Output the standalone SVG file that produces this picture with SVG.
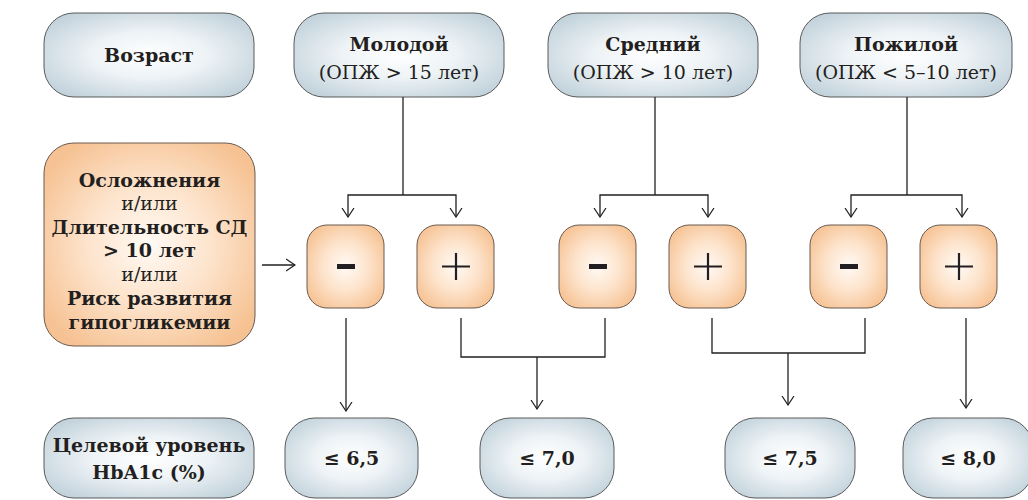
<svg xmlns="http://www.w3.org/2000/svg" width="1028" height="500" viewBox="0 0 1028 500">
<defs>
<radialGradient id="gBlue" cx="50%" cy="50%" r="60%">
<stop offset="0" stop-color="#ffffff"/>
<stop offset="0.45" stop-color="#eef3f6"/>
<stop offset="1" stop-color="#c3d3dc"/>
</radialGradient>
<radialGradient id="gOr" cx="50%" cy="50%" r="60%">
<stop offset="0" stop-color="#fffaf5"/>
<stop offset="0.5" stop-color="#fde3cb"/>
<stop offset="1" stop-color="#f6c293"/>
</radialGradient>
<marker id="arr" viewBox="0 0 10 14" refX="9" refY="7" markerWidth="10" markerHeight="14" markerUnits="userSpaceOnUse" orient="auto-start-reverse">
<path d="M0,1 L9,7 L0,13" fill="none" stroke="#231f20" stroke-width="1.2"/>
</marker>
</defs>
<style>
.b{fill:url(#gBlue);stroke:#5a5a5a;stroke-width:1}
.o{fill:url(#gOr);stroke:#6a5a50;stroke-width:1}
.ln{fill:none;stroke:#231f20;stroke-width:1.3}
</style>
<rect width="1028" height="500" fill="#ffffff"/>
<g font-family="'DejaVu Serif','Liberation Serif',serif" font-size="19" fill="#231f20" text-anchor="middle">
<g id="vozrast"><rect class="b" x="44" y="13" width="210" height="84" rx="30"/><text font-weight="bold" x="149" y="62">Возраст</text></g>
<g id="molodoy"><rect class="b" x="294" y="13" width="210" height="84" rx="30"/><text font-weight="bold" x="399" y="51">Молодой</text><text x="399" y="79">(ОПЖ &gt; 15 лет)</text></g>
<g id="sredniy"><rect class="b" x="548" y="13" width="210" height="84" rx="30"/><text font-weight="bold" x="653" y="51">Средний</text><text x="653" y="79">(ОПЖ &gt; 10 лет)</text></g>
<g id="pozhiloy"><rect class="b" x="800" y="13" width="212" height="84" rx="30"/><text font-weight="bold" x="906" y="51">Пожилой</text><text x="906" y="79">(ОПЖ &lt; 5–10 лет)</text></g>

<g id="oslozhneniya"><rect class="o" x="44" y="143" width="211" height="203" rx="30"/>
<text font-weight="bold" x="149.5" y="187">Осложнения</text>
<text x="149.5" y="210">и/или</text>
<text font-weight="bold" x="149.5" y="234">Длительность СД</text>
<text font-weight="bold" x="149.5" y="257">&gt; 10 лет</text>
<text x="149.5" y="281">и/или</text>
<text font-weight="bold" x="149.5" y="305">Риск развития</text>
<text font-weight="bold" x="149.5" y="329">гипогликемии</text>
</g>

<g id="tselevoy"><rect class="b" x="44" y="418" width="210" height="80" rx="30"/><text font-weight="bold" x="149" y="452">Целевой уровень</text><text font-weight="bold" x="149" y="479">HbA1c (%)</text></g>
<g id="r65"><rect class="b" x="285" y="418" width="133" height="80" rx="30"/><text font-weight="bold" x="351.5" y="465">≤ 6,5</text></g>
<g id="r70"><rect class="b" x="480" y="418" width="134" height="80" rx="30"/><text font-weight="bold" x="547" y="465">≤ 7,0</text></g>
<g id="r75"><rect class="b" x="725" y="418" width="130" height="80" rx="30"/><text font-weight="bold" x="790" y="465">≤ 7,5</text></g>
<g id="r80"><rect class="b" x="903" y="418" width="130" height="80" rx="30"/><text font-weight="bold" x="968" y="465">≤ 8,0</text></g>
</g>

<g id="minus1"><rect class="o" x="307" y="225" width="77" height="83" rx="20"/><rect x="337" y="264" width="18" height="5" fill="#231f20"/></g>
<g id="plus1"><rect class="o" x="417" y="225" width="77" height="83" rx="20"/><path d="M456,253 V280 M442,266.5 H470" stroke="#231f20" stroke-width="2.2"/></g>
<g id="minus2"><rect class="o" x="559" y="225" width="77" height="83" rx="20"/><rect x="589" y="264" width="18" height="5" fill="#231f20"/></g>
<g id="plus2"><rect class="o" x="669" y="225" width="77" height="83" rx="20"/><path d="M708,253 V280 M694,266.5 H722" stroke="#231f20" stroke-width="2.2"/></g>
<g id="minus3"><rect class="o" x="810" y="225" width="77" height="83" rx="20"/><rect x="840" y="264" width="18" height="5" fill="#231f20"/></g>
<g id="plus3"><rect class="o" x="920" y="225" width="77" height="83" rx="20"/><path d="M959,253 V280 M945,266.5 H973" stroke="#231f20" stroke-width="2.2"/></g>

<g id="connectors">
<path class="ln" d="M403,97 V195"/>
<path class="ln" d="M348,217 V195 H456 V217" marker-start="url(#arr)" marker-end="url(#arr)"/>
<path class="ln" d="M655,97 V195"/>
<path class="ln" d="M600,217 V195 H708 V217" marker-start="url(#arr)" marker-end="url(#arr)"/>
<path class="ln" d="M907,97 V195"/>
<path class="ln" d="M851,217 V195 H962 V217" marker-start="url(#arr)" marker-end="url(#arr)"/>
<path class="ln" d="M262,265 H295" marker-end="url(#arr)"/>
<path class="ln" d="M346,318 V411" marker-end="url(#arr)"/>
<path class="ln" d="M461,318 V357 H605 V318"/>
<path class="ln" d="M537,357 V409" marker-end="url(#arr)"/>
<path class="ln" d="M712,318 V353 H865 V318"/>
<path class="ln" d="M788,353 V405" marker-end="url(#arr)"/>
<path class="ln" d="M966,318 V408" marker-end="url(#arr)"/>
</g>
</svg>
